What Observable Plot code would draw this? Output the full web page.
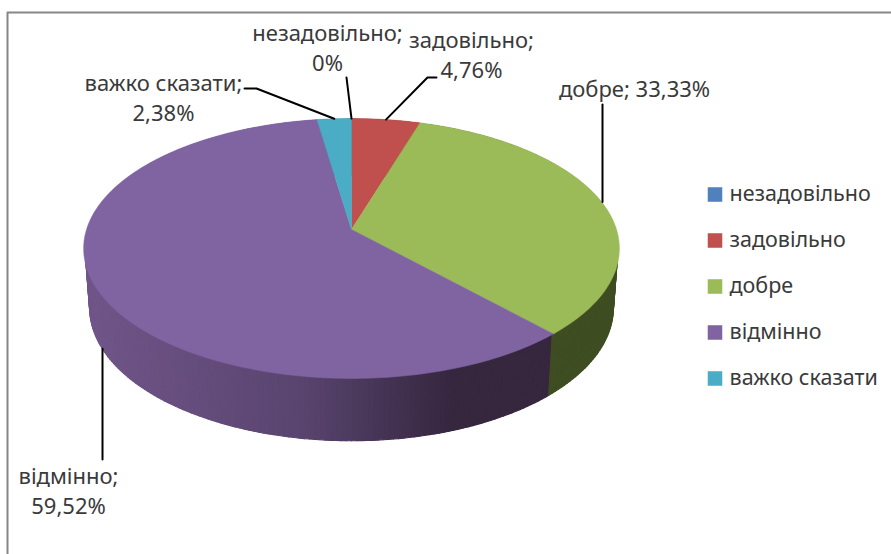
<!DOCTYPE html>
<html><head><meta charset="utf-8">
<script src="https://cdn.jsdelivr.net/npm/d3@7"></script>
<script src="https://cdn.jsdelivr.net/npm/@observablehq/plot@0.6"></script>
<style>html,body{margin:0;padding:0;background:#fff}svg{display:block}</style>
</head><body><div id="chart"></div>
<script>
// Data
const categories = ["незадовільно", "задовільно", "добре", "відмінно", "важко сказати"];
const values = [0, 4.76, 33.33, 59.52, 2.38];
const valueLabels = ["0%", "4,76%", "33,33%", "59,52%", "2,38%"];

// Styles
const colors = ["#4f81bd", "#c0504d", "#9bbb59", "#8064a2", "#4bacc6"];
const wallColors = ["#2a4566", "#6b2b29", "#3f4d22", "#352641", "#27606f"];
const FONT = "'Noto Sans', sans-serif";
const TEXT = "#3a3a3a";

// Perspective pie layout (top face / wall's upper ring / bottom face)
const W = 891, H = 554;
const apex = {x: 351, y: 229};
const k = 0.146;
const top_ = {b: 265, a: 127.2, dy: 0};
const inner = {b: 263.6, a: 126.4, dy: 0};
const bot = {b: 259, a: 130, dy: 59};
const project = (deg, f) => {
  const t = deg * Math.PI / 180, X = Math.sin(t), Y = -Math.cos(t), d = 1 - k * Y;
  return [apex.x + f.b * X / d, apex.y + f.dy + f.a * Y / d];
};
const total = d3.sum(values);
let acc = 0;
const slices = values.map((v, i) => {
  const start = acc / total * 360; acc += v;
  return {i, start, end: acc / total * 360, mid: (start + acc / total * 360) / 2};
});
const arcDegs = (s, e, step = 1) => {
  const out = [], n = Math.max(1, Math.ceil((e - s) / step));
  for (let j = 0; j <= n; j++) out.push(s + (e - s) * j / n);
  return out;
};

// Walls: strips from the upper ring to the bottom rim; the large slice is shaded across its width
const shade = d3.scaleLinear()
  .domain([90, 300, 450]).range(["#705589", "#59446f", "#36273f"])
  .interpolate(d3.interpolateRgb).clamp(true);
const wallStrips = [];
slices.forEach(s => {
  if (s.end - s.start <= 0) return;
  const degs = arcDegs(s.start, s.end);
  for (let j = 0; j + 1 < degs.length; j++) {
    const a = project(degs[j], inner), b = project(degs[j + 1], inner);
    const c = project(degs[j + 1], bot), d = project(degs[j], bot);
    const fill = s.i === 3 ? shade((a[0] + b[0]) / 2) : wallColors[s.i];
    [a, b, c, d, a].forEach(p => wallStrips.push({id: s.i + "-" + j, order: s.i, px: p[0], py: p[1], fill}));
  }
});
// Back-to-front: large slice first so the green wall keeps its straight cut edge
const wallOrdered = [...wallStrips.filter(d => d.order !== 2), ...wallStrips.filter(d => d.order === 2)];

// Top wedges
const topRows = [];
slices.forEach(s => {
  if (s.end - s.start <= 0) return;
  const pts = [[apex.x, apex.y], ...arcDegs(s.start, s.end).map(d => project(d, top_)), [apex.x, apex.y]];
  pts.forEach(p => topRows.push({id: "t" + s.i, px: p[0], py: p[1], fill: colors[s.i]}));
});

// Labels
const labelLayout = [
  {i: 0, cx: 327, cy: 33, lines: [categories[0] + ";", valueLabels[0]]},
  {i: 1, cx: 471, cy: 40, lines: [categories[1] + ";", valueLabels[1]]},
  {i: 2, cx: 634, cy: 89, lines: [categories[2] + "; " + valueLabels[2]]},
  {i: 3, cx: 68,  cy: 476, lines: [categories[3] + ";", valueLabels[3]]},
  {i: 4, cx: 163, cy: 83, lines: [categories[4] + ";", valueLabels[4]]}
];
const labelRows = labelLayout.flatMap(l => l.lines.map((t, n) => ({t, px: l.cx, py: l.cy + n * 30})));

// Leader elbows, anchored on the slice rim at its mid-angle
const leaderBends = [
  [[346, 77]],
  [[427, 77], [436, 77]],
  [[602, 104]],
  [[102, 459]],
  [[256, 88], [244, 88]]
];
const leaderRows = slices.flatMap(s => {
  const anchor = project(s.mid, s.i === 3 ? bot : top_);
  const elbow = leaderBends[s.i];
  const first = s.i === 3 || s.i === 2 ? [elbow[0][0], anchor[1]] : anchor;
  return [first, ...elbow].map(p => ({id: s.i, px: p[0], py: p[1]}));
});

// Legend
const legendRows = categories.map((c, i) => ({c, fill: colors[i], py: 194 + i * 46}));

const frame = [{px: 7, py: H}, {px: 7, py: 12}, {px: W, py: 12}];

const chart = Plot.plot({
  width: W, height: H,
  margin: 0,
  style: {background: "#fff", fontFamily: FONT},
  x: {domain: [0, W], range: [0, W], axis: null},
  y: {domain: [0, H], range: [0, H], axis: null},
  marks: [
    Plot.line(frame, {x: "px", y: "py", stroke: "#868686", strokeWidth: 2}),
    Plot.line(wallOrdered, {x: "px", y: "py", z: "id", fill: "fill", stroke: "fill", strokeWidth: 1.2, curve: "linear"}),
    Plot.line(topRows, {x: "px", y: "py", z: "id", fill: "fill", stroke: "fill", strokeWidth: 0.5, curve: "linear"}),
    Plot.line(leaderRows, {x: "px", y: "py", z: "id", stroke: "#000", strokeWidth: 2, curve: "linear"}),
    Plot.text(labelRows, {x: "px", y: "py", text: "t", fontSize: 22, fill: TEXT, fontFamily: FONT, textAnchor: "middle"}),
    Plot.dot(legendRows, {x: 714.5, y: "py", symbol: "square", r: 8.2, fill: "fill", stroke: null}),
    Plot.text(legendRows, {x: 729, y: "py", text: "c", fontSize: 21.5, fill: TEXT, fontFamily: FONT, textAnchor: "start"})
  ]
});
document.getElementById("chart").append(chart);
</script>
</body></html>
